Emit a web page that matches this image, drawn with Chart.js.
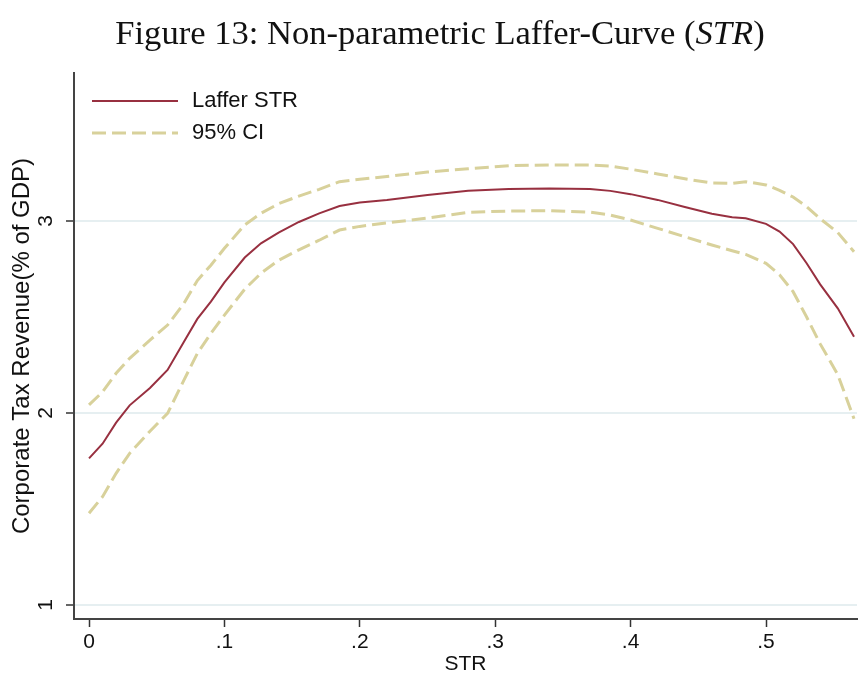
<!DOCTYPE html>
<html>
<head>
<meta charset="utf-8">
<script src="https://cdn.jsdelivr.net/npm/chart.js@4.4.0/dist/chart.umd.min.js"></script>
<style>
  html, body { margin: 0; padding: 0; background: #fff; }
  #wrap { position: relative; width: 858px; height: 675px; overflow: hidden; }
  #title { position: absolute; left: 0; top: 17px; width: 880px; text-align: center;
           font-family: "Liberation Serif", serif; font-size: 30px; line-height: 30px;
           color: #111; white-space: nowrap; }
  #title span { display: inline-block; }
  canvas { position: absolute; left: 0; top: 0; }
</style>
</head>
<body>
<div id="wrap">
  <canvas id="myChart" width="858" height="675"></canvas>
  <div id="title"><span id="titleText">Figure 13: Non-parametric Laffer-Curve (<i>STR</i>)</span></div>
</div>
<script>
// data
const strValues = [0, 0.01, 0.02, 0.03, 0.045, 0.058, 0.07, 0.08, 0.09, 0.1, 0.115, 0.127, 0.14,
  0.155, 0.17, 0.185, 0.2, 0.22, 0.25, 0.28, 0.31, 0.34, 0.37, 0.385, 0.4, 0.42, 0.44, 0.46,
  0.475, 0.485, 0.5, 0.51, 0.52, 0.53, 0.54, 0.553, 0.565];
const laffer = [1.764, 1.84, 1.95, 2.04, 2.13, 2.224, 2.37, 2.49, 2.58, 2.68, 2.81, 2.884, 2.94,
  2.995, 3.04, 3.078, 3.097, 3.11, 3.135, 3.158, 3.167, 3.17, 3.167, 3.157, 3.14, 3.11, 3.073, 3.038,
  3.02, 3.014, 2.985, 2.945, 2.88, 2.78, 2.67, 2.545, 2.397];
const ciUpper = [2.042, 2.11, 2.207, 2.285, 2.38, 2.458, 2.57, 2.69, 2.77, 2.858, 2.98, 3.04, 3.09,
  3.13, 3.165, 3.205, 3.217, 3.232, 3.255, 3.272, 3.288, 3.292, 3.292, 3.286, 3.27, 3.245, 3.22, 3.198,
  3.196, 3.205, 3.188, 3.16, 3.125, 3.075, 3.012, 2.94, 2.84];
const ciLower = [1.478, 1.564, 1.686, 1.79, 1.905, 1.998, 2.17, 2.31, 2.415, 2.51, 2.645, 2.728, 2.795,
  2.85, 2.9, 2.953, 2.972, 2.99, 3.015, 3.045, 3.052, 3.054, 3.046, 3.031, 3.005, 2.962, 2.918, 2.875,
  2.845, 2.826, 2.78, 2.72, 2.632, 2.5, 2.36, 2.2, 1.97];
const xTicks = [0, 0.1, 0.2, 0.3, 0.4, 0.5];
const yTicks = [1, 2, 3];

const lafferColor = "#983040";
const ciColor = "#d8d19b";
const sans = "'Liberation Sans', Arial, sans-serif";

// fit the title to the width it has in the figure
const titleSpan = document.getElementById("titleText");
const titleWidth = titleSpan.offsetWidth;
document.getElementById("title").style.fontSize = (30 * 650 / titleWidth) + "px";

const toPoints = (ys) => ys.map((y, i) => ({ x: strValues[i], y: y }));

// legend drawn inside the plot region
const insideLegend = {
  id: "insideLegend",
  afterDatasetsDraw(chart) {
    const ctx = chart.ctx;
    const items = [
      { label: "Laffer STR", color: lafferColor, width: 2, dash: [] },
      { label: "95% CI", color: ciColor, width: 3, dash: [14, 6] }
    ];
    ctx.save();
    items.forEach((item, i) => {
      const y = 101 + i * 32;
      ctx.strokeStyle = item.color;
      ctx.lineWidth = item.width;
      ctx.setLineDash(item.dash);
      ctx.beginPath();
      ctx.moveTo(92, y);
      ctx.lineTo(178, y);
      ctx.stroke();
      ctx.setLineDash([]);
      ctx.fillStyle = "#111";
      ctx.font = "22px " + sans;
      ctx.textBaseline = "middle";
      ctx.textAlign = "left";
      ctx.fillText(item.label, 192, y);
    });
    ctx.restore();
  }
};

const config = {
  type: "line",
  data: {
    datasets: [
      { label: "95% CI", data: toPoints(ciUpper), borderColor: ciColor, borderWidth: 3,
        borderDash: [14, 6], pointRadius: 0, tension: 0 },
      { label: "95% CI lower", data: toPoints(ciLower), borderColor: ciColor, borderWidth: 3,
        borderDash: [14, 6], pointRadius: 0, tension: 0 },
      { label: "Laffer STR", data: toPoints(laffer), borderColor: lafferColor, borderWidth: 2,
        pointRadius: 0, tension: 0 }
    ]
  },
  options: {
    responsive: false,
    animation: false,
    layout: { padding: { top: 73, right: 1, left: 0, bottom: 0 } },
    plugins: {
      legend: { display: false },
      tooltip: { enabled: false }
    },
    scales: {
      x: {
        type: "linear",
        min: -0.0111,
        max: 0.5672,
        afterBuildTicks: (s) => { s.ticks = xTicks.map(v => ({ value: v })); },
        afterFit: (s) => { s.height = 56; },
        grid: { drawOnChartArea: false, tickLength: 8, tickColor: "#333", tickWidth: 1.5 },
        border: { color: "#444", width: 2 },
        ticks: {
          color: "#111", font: { family: sans, size: 21 }, padding: 3,
          maxRotation: 0, autoSkip: false,
          callback: (v) => v === 0 ? "0" : "." + Math.round(v * 10)
        },
        title: { display: true, text: "STR", color: "#111",
                 font: { family: sans, size: 21, lineHeight: 1.0 },
                 padding: { top: 0, bottom: 0 } }
      },
      y: {
        min: 0.927,
        max: 3.771,
        afterBuildTicks: (s) => { s.ticks = yTicks.map(v => ({ value: v })); },
        afterFit: (s) => { s.width = 74; },
        grid: { color: "#e6eff1", lineWidth: 2, tickLength: 8, tickColor: "#333", tickWidth: 1.5 },
        border: { color: "#444", width: 2 },
        ticks: {
          color: "#111", font: { family: sans, size: 21 }, padding: 14,
          minRotation: 90, maxRotation: 90, crossAlign: "center",
          callback: (v) => String(v)
        },
        title: { display: true, text: "Corporate Tax Revenue(% of GDP)", color: "#111",
                 font: { family: sans, size: 24 }, padding: { top: 8, bottom: 0 } }
      }
    }
  },
  plugins: [insideLegend]
};

const myChart = new Chart(document.getElementById("myChart"), config);
</script>
</body>
</html>
